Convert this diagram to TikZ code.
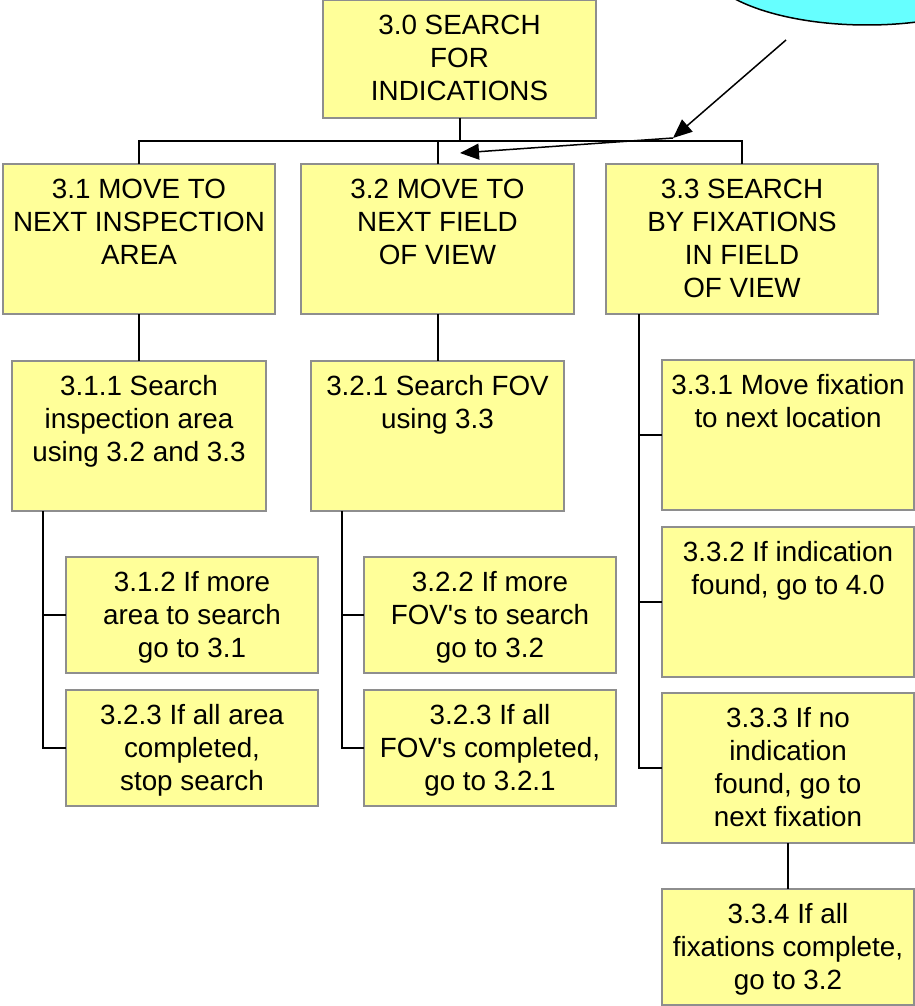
\documentclass[tikz,border=0pt]{standalone}
\usepackage{fontspec}
\setmainfont{Liberation Sans}
\usetikzlibrary{arrows.meta}

\definecolor{boxfill}{HTML}{FFFF99}
\definecolor{boxline}{HTML}{8E8E8E}
\definecolor{goalfill}{HTML}{66FFFF}

\tikzset{
  box/.style={draw=boxline, fill=boxfill, line width=1.8pt, rectangle,
              inner sep=0pt, outer sep=0pt, anchor=north west},
  lbl/.style={anchor=north, align=center, inner sep=0pt,
              font=\fontsize{27.8}{33}\selectfont},
  link/.style={draw=black, line width=2pt},
  ptr/.style={draw=black, line width=1.5pt,
              -{Triangle[length=19pt,width=16pt]}},
}

% \taskbox{name}{left}{top}{right}{bottom}{text}
\newcommand\taskbox[6]{%
  \node[box, minimum width=#4-#2, minimum height=#5-#3] (#1) at (#2,#3) {};
  \node[lbl] (#1-t) at ([yshift=-14.5pt]#1.north) {#6};
}

\begin{document}
\begin{tikzpicture}[x=1pt, y=-1pt]
\useasboundingbox (0,0) rectangle (915,1006);

% goal ellipse in the corner
\draw[fill=goalfill, line width=1.5pt] (867,-40) ellipse [x radius=165, y radius=65];

% top task
\taskbox{n30}{323}{0}{596}{118}{3.0 SEARCH\\FOR\\INDICATIONS}

% second level
\taskbox{n31}{3}{164}{275}{314}{3.1 MOVE TO\\NEXT INSPECTION\\AREA}
\taskbox{n32}{301}{164}{574}{314}{3.2 MOVE TO\\NEXT FIELD\\OF VIEW}
\taskbox{n33}{606}{164}{878}{314}{3.3 SEARCH\\BY FIXATIONS\\IN FIELD\\OF VIEW}

% third level
\taskbox{n311}{12}{361}{266}{511}{3.1.1 Search\\inspection area\\using 3.2 and 3.3}
\taskbox{n321}{311}{361}{564}{511}{3.2.1 Search FOV\\using 3.3}
\taskbox{n331}{662}{360}{914}{510}{3.3.1 Move fixation\\to next location}

\taskbox{n312}{66}{557}{318}{673}{3.1.2 If more\\area to search\\go to 3.1}
\taskbox{n313}{66}{690}{318}{806}{3.2.3 If all area\\completed,\\stop search}

\taskbox{n322}{364}{557}{616}{673}{3.2.2 If more\\FOV\textquotesingle s to search\\go to 3.2}
\taskbox{n323}{364}{690}{616}{806}{3.2.3 If all\\FOV\textquotesingle s completed,\\go to 3.2.1}

\taskbox{n332}{662}{527}{914}{677}{3.3.2 If indication\\found, go to 4.0}
\taskbox{n333}{662}{693}{914}{843}{3.3.3 If no\\indication\\found, go to\\next fixation}
\taskbox{n334}{662}{889}{914}{1005}{3.3.4 If all\\fixations complete,\\go to 3.2}

% bus under the top task
\coordinate (bus) at (0,141);
\draw[link] (n30.south) -- (n30.south |- bus);
\draw[link] (n31.north) -- (n31.north |- bus) -| (n33.north);
\draw[link] (n32.north) -- (n32.north |- bus);

% straight drops
\draw[link] (n31.south) -- (n311.north);
\draw[link] (n32.south) -- (n321.north);
\draw[link] (n333.south) -- (n334.north);

% side spines
\coordinate (sp1) at (43,511);
\draw[link] (sp1) |- (n313.west);
\draw[link] (sp1 |- n312.west) -- (n312.west);

\coordinate (sp2) at (342,511);
\draw[link] (sp2) |- (n323.west);
\draw[link] (sp2 |- n322.west) -- (n322.west);

\coordinate (sp3) at (639,314);
\draw[link] (sp3) |- (n333.west);
\draw[link] (sp3 |- n331.west) -- (n331.west);
\draw[link] (sp3 |- n332.west) -- (n332.west);

% arrows from the goal
\coordinate (a1) at (786,40);
\coordinate (a2) at (673,138);
\coordinate (a3) at (460,153);
\draw[ptr] (a1) -- (a2);
\draw[ptr] (a2) -- (a3);
\end{tikzpicture}
\end{document}
